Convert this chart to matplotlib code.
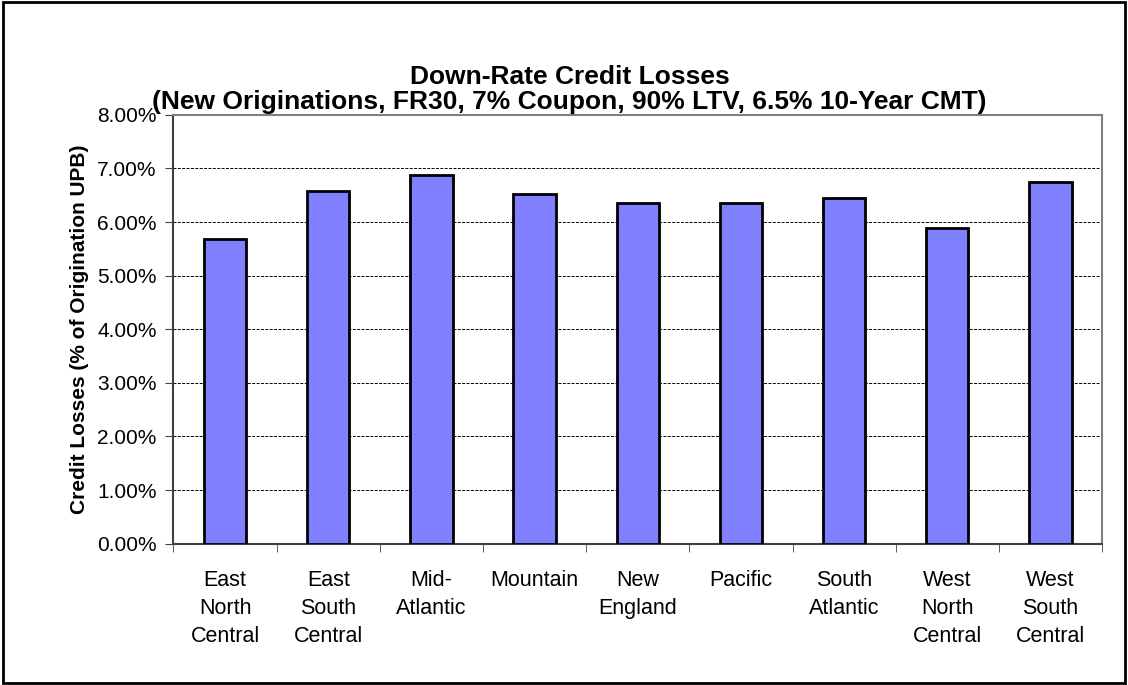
import numpy as np
import matplotlib.pyplot as plt
from matplotlib.ticker import FuncFormatter, FixedLocator
from matplotlib.patches import Rectangle

plt.rcParams['font.family'] = ['Liberation Sans', 'DejaVu Sans']

regioes = ["East\nNorth\nCentral", "East\nSouth\nCentral", "Mid-\nAtlantic", "Mountain",
           "New\nEngland", "Pacific", "South\nAtlantic", "West\nNorth\nCentral",
           "West\nSouth\nCentral"]
perdas = [5.68, 6.58, 6.87, 6.53, 6.36, 6.35, 6.44, 5.88, 6.74]
y_ticks = [0, 1, 2, 3, 4, 5, 6, 7, 8]

fig = plt.figure(figsize=(11.28, 6.85), dpi=100)
ax = fig.add_axes([0.1538, 0.2063, 0.977 - 0.1538, 0.8324 - 0.2063])

x = np.arange(len(regioes))
ax.bar(x, perdas, width=0.41, color="#8080FF", edgecolor="black", linewidth=2, zorder=3)

ax.set_xlim(-0.5, len(regioes) - 0.5)
ax.set_ylim(0, 8)
ax.set_yticks(y_ticks)
ax.yaxis.set_major_formatter(FuncFormatter(lambda v, p: f"{v:.2f}%"))
ax.grid(axis="y", linestyle=(0, (3, 1.5)), color="black", linewidth=0.7, zorder=1)

# rótulos nas categorias, marcas nas divisas
ax.set_xticks(x)
ax.set_xticklabels(regioes, fontsize=15.5, linespacing=1.45, va="top")
ax.xaxis.set_minor_locator(FixedLocator(np.arange(-0.5, len(regioes), 1.0)))
ax.tick_params(axis="x", which="major", length=0, pad=19)
ax.tick_params(axis="x", which="minor", length=6, direction="out", color="#404040")
ax.tick_params(axis="y", length=6, direction="out", color="#404040", labelsize=15, pad=6)

for lado in ["top", "right"]:
    ax.spines[lado].set_color("#808080")
    ax.spines[lado].set_linewidth(1.5)
for lado in ["left", "bottom"]:
    ax.spines[lado].set_color("#404040")
    ax.spines[lado].set_linewidth(1.5)

ax.set_ylabel("Credit Losses (% of Origination UPB)", fontsize=15, fontweight="bold", labelpad=6)

fig.text(0.505, 0.888, "Down-Rate Credit Losses", ha="center", va="center",
         fontsize=19, fontweight="bold")
fig.text(0.505, 0.851, "(New Originations, FR30, 7% Coupon, 90% LTV, 6.5% 10-Year CMT)",
         ha="center", va="center", fontsize=19, fontweight="bold")

# moldura da figura
fig.patches.append(Rectangle((0.003, 0.003), 0.994, 0.994, transform=fig.transFigure,
                             fill=False, edgecolor="black", linewidth=2))

plt.savefig("out.png", dpi=100)
